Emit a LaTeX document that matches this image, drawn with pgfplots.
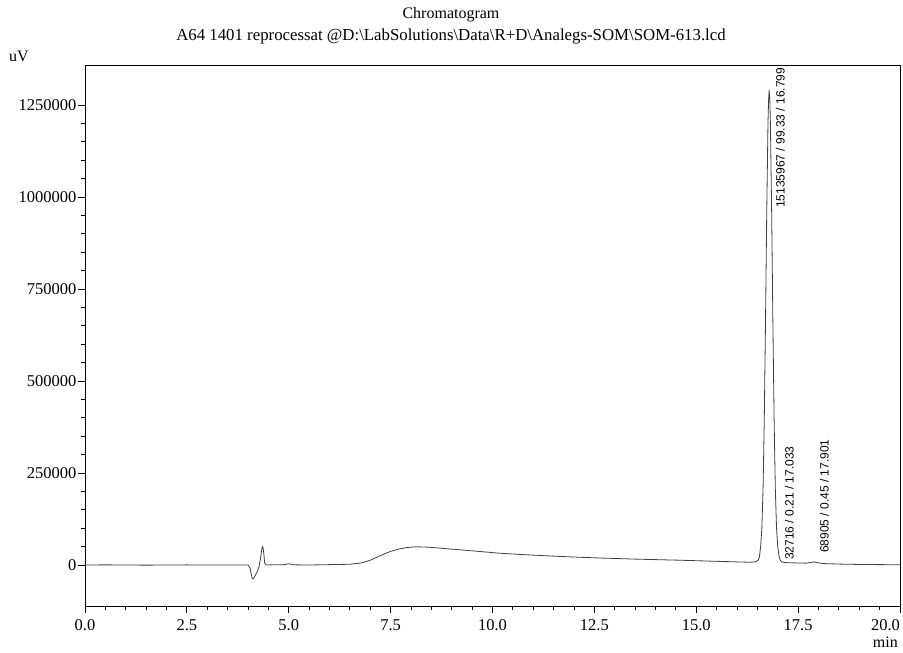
\documentclass[border=0pt]{standalone}
\usepackage{fontspec}
\setmainfont{Liberation Serif}
\newfontfamily\lblfont{Liberation Sans}
\usepackage{pgfplots}
\pgfplotsset{compat=1.18}
\begin{document}
\begin{tikzpicture}
\begin{axis}[
  name=ax,
  scale only axis,
  width=815pt, height=541pt,
  xmin=0, xmax=20,
  ymin=-111400, ymax=1358700,
  axis line style={black, line width=0.9pt},
  tick style={black, line width=0.8pt},
  tick align=outside,
  xtick pos=bottom, ytick pos=left,
  major tick length=7pt, minor tick length=4.5pt,
  xtick={0,2.5,5,7.5,10,12.5,15,17.5,20},
  xticklabels={0.0,2.5,5.0,7.5,10.0,12.5,15.0,17.5,{\makebox[0pt]{20.0\kern29pt}}},
  ytick={0,250000,500000,750000,1000000,1250000},
  minor x tick num=4, minor y tick num=4,
  scaled y ticks=false,
  xticklabel style={yshift=-3pt},
  yticklabel style={/pgf/number format/fixed, /pgf/number format/set thousands separator={}, xshift=2pt},
  /pgf/number format/assume math mode=true,
  ticklabel style={font=\fontsize{16.5}{18}\selectfont},
  clip=true,
]
\addplot[line width=0.8pt, color=black!75] coordinates {
(0,0) (0.5,400) (1.0,0) (1.5,-400) (2.0,0) (2.5,300) (3.0,0) (3.5,200) (4.0,0)
(4.05,-8000) (4.1,-36000) (4.12,-38000) (4.17,-30000) (4.22,-20000) (4.27,-5000)
(4.31,20000) (4.34,45000) (4.36,50000) (4.38,40000) (4.41,5000) (4.45,0)
(4.6,500) (4.9,1000) (5.0,3500) (5.1,500) (5.5,0) (6.0,1000) (6.5,2000)
(6.8,6000) (7.0,13000) (7.3,28000) (7.5,37000) (7.73,44000) (7.9,47500)
(8.14,49500) (8.4,48500) (8.7,46000) (8.96,43500) (9.5,38500) (10.18,32000)
(10.8,28000) (11.41,24500) (12.15,21000) (12.64,19000) (13.5,16000)
(14.6,13000) (15.5,10000) (16.3,7500) (16.4,8000) (16.46,9500) (16.52,13000)
(16.55,22000) (16.58,50000) (16.61,100000) (16.64,209000) (16.67,400000)
(16.70,666000) (16.73,961000) (16.76,1198000) (16.775,1265000) (16.79,1290000)
(16.805,1265000) (16.82,1198000) (16.85,961000) (16.88,666000) (16.91,400000)
(16.94,209000) (16.97,100000) (17.00,50000) (17.03,25000) (17.06,13000)
(17.10,8000) (17.2,6500) (17.5,5500) (17.7,5000) (17.85,7500) (17.9,8500)
(17.95,7000) (18.1,4000) (18.5,2500) (19.0,1500) (19.5,1000) (20.0,800)
};
\node[rotate=90, anchor=north west, inner sep=0pt, font=\lblfont\fontsize{12}{14}\selectfont]
  at (axis cs:16.95,970000) {15135967 / 99.33 / 16.799};
\node[rotate=90, anchor=north west, inner sep=0pt, font=\lblfont\fontsize{12}{14}\selectfont]
  at (axis cs:17.17,13600) {32716 / 0.21 / 17.033};
\node[rotate=90, anchor=north west, inner sep=0pt, font=\lblfont\fontsize{12}{14}\selectfont]
  at (axis cs:18.03,32600) {68905 / 0.45 / 17.901};
\end{axis}
\node[anchor=base, font=\fontsize{16}{18}\selectfont] at ([shift={(366pt,46pt)}]ax.north west) {Chromatogram};
\node[anchor=base, font=\fontsize{16.8}{18}\selectfont] at ([shift={(366pt,24pt)}]ax.north west) {A64 1401 reprocessat @D:\textbackslash LabSolutions\textbackslash Data\textbackslash R+D\textbackslash Analegs-SOM\textbackslash SOM-613.lcd};
\node[anchor=base west, inner sep=0pt, font=\fontsize{16}{18}\selectfont] at ([shift={(-76pt,3pt)}]ax.north west) {uV};
\node[anchor=base east, inner sep=0pt, font=\fontsize{16}{18}\selectfont] at ([shift={(-2pt,-42pt)}]ax.south east) {min};
\pgfresetboundingbox
\path ([shift={(-85pt,-47pt)}]ax.south west) rectangle ([shift={(3pt,65pt)}]ax.north east);
\end{tikzpicture}
\end{document}
